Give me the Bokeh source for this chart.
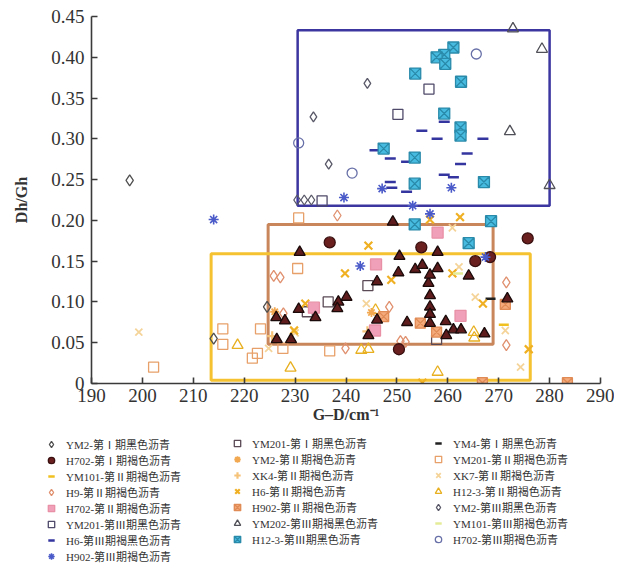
from bokeh.plotting import figure
from bokeh.models import (Legend, LegendItem, FixedTicker, NumeralTickFormatter, Range1d)
from bokeh.embed import file_html
from bokeh.resources import INLINE

# ---------------- data ----------------
x_ticks = [190, 200, 210, 220, 230, 240, 250, 260, 270, 280, 290]
y_ticks = [0, 0.05, 0.10, 0.15, 0.20, 0.25, 0.30, 0.35, 0.40, 0.45]

# group boxes (left, right, bottom, top)
box_left = [230.5, 224.7, 213.5]
box_right = [280.0, 268.9, 276.2]
box_bottom = [0.218, 0.048, 0.004]
box_top = [0.433, 0.195, 0.159]

ym2_1_x = [197.5, 214.0, 224.5]
ym2_1_y = [0.249, 0.055, 0.094]
ym201_1_x = [232.4, 236.5, 244.3, 257.8]
ym201_1_y = [0.088, 0.100, 0.120, 0.054]
ym4_1_x = [268.4]
ym4_1_y = [0.104]
tri_x = [230.9, 226.3, 228.0, 230.7, 226.4, 229.2, 234.0, 249.2, 250.5, 246.1,
         250.3, 253.6, 255.0, 256.2, 256.5, 258.0, 258.0, 264.1, 240.1, 238.5,
         238.3, 246.1, 244.4, 252.0, 256.5, 256.5, 256.5, 256.5, 259.6, 261.1,
         262.6, 259.7, 267.2, 271.7]
tri_y = [0.161, 0.081, 0.077, 0.091, 0.054, 0.054, 0.081, 0.198, 0.156, 0.125,
         0.136, 0.140, 0.145, 0.123, 0.133, 0.141, 0.161, 0.132, 0.106, 0.100,
         0.092, 0.078, 0.059, 0.075, 0.108, 0.094, 0.085, 0.074, 0.076, 0.066,
         0.066, 0.059, 0.061, 0.104]
h702_1_x = [236.8, 254.8, 275.7, 265.4, 268.3, 250.4]
h702_1_y = [0.173, 0.167, 0.178, 0.150, 0.155, 0.042]
ym2_2_x = [226.0, 245.0]
ym2_2_y = [0.088, 0.087]
ym201_2_x = [230.7, 230.5, 215.8, 215.8, 223.2, 221.6, 227.6, 236.8, 202.2, 222.6]
ym201_2_y = [0.203, 0.141, 0.067, 0.048, 0.067, 0.031, 0.043, 0.040, 0.020, 0.037]
ym101_2_x = [271.0]
ym101_2_y = [0.072]
xk4_2_x = [225.5, 244.2]
xk4_2_y = [0.058, 0.064]
xk7_2_x = [199.3, 244.0, 260.9, 262.2, 265.4, 271.3, 274.3, 224.8, 230.0]
xk7_2_y = [0.063, 0.098, 0.191, 0.143, 0.106, 0.065, 0.020, 0.043, 0.062]
h9_2_x = [238.3, 248.5, 239.9, 250.7, 251.7, 271.5, 271.5, 225.8, 227.1, 227.7]
h9_2_y = [0.206, 0.094, 0.043, 0.052, 0.051, 0.124, 0.047, 0.132, 0.130, 0.086]
h6_2_x = [232.0, 244.4, 239.8, 248.9, 256.5, 262.4, 260.9, 266.9, 275.9, 255.0, 229.8]
h6_2_y = [0.098, 0.169, 0.135, 0.127, 0.201, 0.204, 0.135, 0.098, 0.042, 0.001, 0.065]
h123_2_x = [218.7, 229.1, 245.8, 243.0, 244.4, 265.1, 265.2, 258.0]
h123_2_y = [0.047, 0.019, 0.090, 0.041, 0.042, 0.063, 0.056, 0.014]
h702_2_x = [233.7, 245.9, 258.0, 262.5, 245.7]
h702_2_y = [0.093, 0.146, 0.185, 0.083, 0.065]
h902_2_x = [247.4, 254.6, 257.8, 271.3, 266.8, 283.5]
h902_2_y = [0.082, 0.074, 0.063, 0.097, 0.001, 0.001]
ym2_3_x = [244.2, 233.6, 236.6, 230.4, 231.8, 233.2]
ym2_3_y = [0.368, 0.327, 0.269, 0.225, 0.225, 0.225]
ym201_3_x = [250.2, 256.3, 235.3]
ym201_3_y = [0.330, 0.361, 0.224]
ym202_3_x = [272.8, 278.5, 272.2, 280.0]
ym202_3_y = [0.435, 0.410, 0.309, 0.243]
ym101_3_x = [262.0]
ym101_3_y = [0.135]
h6_3_x = [245.7, 248.7, 251.9, 254.9, 257.9, 266.9, 263.8, 262.5, 259.3, 261.1,
          259.3, 248.7, 249.0, 251.9]
h6_3_y = [0.286, 0.276, 0.272, 0.310, 0.300, 0.300, 0.282, 0.269, 0.256, 0.253,
          0.321, 0.247, 0.240, 0.235]
h123_3_x = [261.1, 259.3, 257.8, 259.5, 253.6, 262.6, 259.3, 262.5, 262.5, 247.4,
            253.5, 253.5, 267.1, 253.5, 268.5, 264.1]
h123_3_y = [0.412, 0.403, 0.400, 0.392, 0.380, 0.370, 0.331, 0.314, 0.304, 0.288,
            0.277, 0.245, 0.247, 0.195, 0.199, 0.172]
h702_3_x = [230.7, 241.2, 265.6]
h702_3_y = [0.295, 0.258, 0.404]
h902_3_x = [214.0, 239.6, 253.1, 256.5, 242.8, 267.4, 247.1, 260.7]
h902_3_y = [0.201, 0.228, 0.218, 0.208, 0.144, 0.155, 0.239, 0.240]

# series styles: key -> (marker, size, line colour, fill colour, line width)
styles = {
    "ym2_1": ("diamond", 11, "#505050", None, 1.3),
    "ym201_1": ("square", 10, "#5a4a55", None, 1.3),
    "ym4_1": ("dash", 10, "#202020", None, 2.5),
    "ym201_2": ("square", 10, "#e8a06a", None, 1.3),
    "h9_2": ("diamond", 11, "#e0906e", None, 1.3),
    "h123_2": ("triangle", 11, "#e8b020", None, 1.3),
    "xk7_2": ("x", 10, "#f5d49a", None, 1.8),
    "xk4_2": ("cross", 10, "#f5c47a", None, 2.2),
    "ym2_2": ("asterisk", 9, "#f2a850", None, 1.8),
    "ym101_2": ("dash", 10, "#f0c020", None, 2.5),
    "h6_2": ("x", 11, "#f0b024", None, 2.2),
    "h702_2": ("square", 11, "#e890a6", "#f0a0b8", 1.3),
    "h902_2": ("square_x", 10, "#e08a55", "#f4aa7a", 1.3),
    "tri": ("triangle", 11, "#1a0a0a", "#5e1c1c", 1.3),
    "h702_1": ("circle", 11, "#3a1010", "#6b2020", 1.3),
    "ym2_3": ("diamond", 10, "#585868", None, 1.3),
    "ym201_3": ("square", 10, "#4f4a6a", None, 1.3),
    "ym202_3": ("triangle", 11, "#505058", None, 1.3),
    "ym101_3": ("dash", 10, "#e4ec98", None, 2.5),
    "h6_3": ("dash", 11, "#3535a0", None, 2.5),
    "h123_3": ("square_x", 11, "#2a8aaa", "#48bce0", 1.3),
    "h702_3": ("circle", 10, "#6870a8", None, 1.3),
    "h902_3": ("asterisk", 10, "#4a5ac8", None, 1.6),
}
series = {
    "ym2_1": (ym2_1_x, ym2_1_y), "ym201_1": (ym201_1_x, ym201_1_y), "ym4_1": (ym4_1_x, ym4_1_y),
    "ym201_2": (ym201_2_x, ym201_2_y), "h9_2": (h9_2_x, h9_2_y), "h123_2": (h123_2_x, h123_2_y),
    "xk7_2": (xk7_2_x, xk7_2_y), "xk4_2": (xk4_2_x, xk4_2_y), "ym2_2": (ym2_2_x, ym2_2_y),
    "ym101_2": (ym101_2_x, ym101_2_y), "h6_2": (h6_2_x, h6_2_y), "h702_2": (h702_2_x, h702_2_y),
    "h902_2": (h902_2_x, h902_2_y), "tri": (tri_x, tri_y), "h702_1": (h702_1_x, h702_1_y),
    "ym2_3": (ym2_3_x, ym2_3_y), "ym201_3": (ym201_3_x, ym201_3_y), "ym202_3": (ym202_3_x, ym202_3_y),
    "ym101_3": (ym101_3_x, ym101_3_y), "h6_3": (h6_3_x, h6_3_y), "h123_3": (h123_3_x, h123_3_y),
    "h702_3": (h702_3_x, h702_3_y), "h902_3": (h902_3_x, h902_3_y),
}

legend_cols = [
    [("YM2-第Ⅰ期黑色沥青", "ym2_1"), ("H702-第Ⅰ期褐色沥青", "h702_1"),
     ("YM101-第Ⅱ期褐色沥青", "ym101_2"), ("H9-第Ⅱ期褐色沥青", "h9_2"),
     ("H702-第Ⅱ期褐色沥青", "h702_2"), ("YM201-第Ⅲ期黑色沥青", "ym201_3"),
     ("H6-第Ⅲ期褐黑色沥青", "h6_3"), ("H902-第Ⅲ期褐色沥青", "h902_3")],
    [("YM201-第Ⅰ期黑色沥青", "ym201_1"), ("YM2-第Ⅱ期褐色沥青", "ym2_2"),
     ("XK4-第Ⅱ期褐色沥青", "xk4_2"), ("H6-第Ⅱ期褐色沥青", "h6_2"),
     ("H902-第Ⅱ期褐色沥青", "h902_2"), ("YM202-第Ⅲ期褐黑色沥青", "ym202_3"),
     ("H12-3-第Ⅲ期黑色沥青", "h123_3")],
    [("YM4-第Ⅰ期黑色沥青", "ym4_1"), ("YM201-第Ⅱ期褐色沥青", "ym201_2"),
     ("XK7-第Ⅱ期褐色沥青", "xk7_2"), ("H12-3-第Ⅱ期褐色沥青", "h123_2"),
     ("YM2-第Ⅲ期黑色沥青", "ym2_3"), ("YM101-第Ⅲ期褐色沥青", "ym101_3"),
     ("H702-第Ⅲ期褐色沥青", "h702_3")],
]

# ---------------- main figure ----------------
p = figure(width=614, height=430, x_range=Range1d(190, 290), y_range=Range1d(0, 0.45),
           output_backend="svg", toolbar_location=None,
           min_border_left=91, min_border_right=14, min_border_top=16, min_border_bottom=47)
p.xgrid.visible = False
p.ygrid.visible = False
p.outline_line_color = None

FONT = "Liberation Serif"
for ax in (p.xaxis[0], p.yaxis[0]):
    ax.major_tick_in = 6
    ax.major_tick_out = 0
    ax.minor_tick_line_color = None
    ax.axis_line_color = "#3a3a3a"
    ax.axis_line_width = 1.6
    ax.major_tick_line_color = "#3a3a3a"
    ax.major_tick_line_width = 1.6
    ax.major_label_text_font = FONT
    ax.major_label_text_font_size = "19px"
    ax.major_label_text_color = "#333333"
    ax.axis_label_text_font = FONT
    ax.axis_label_text_font_size = "16px"
    ax.axis_label_text_font_style = "bold"
    ax.axis_label_text_color = "#333333"

p.xaxis.ticker = FixedTicker(ticks=x_ticks)
p.yaxis.ticker = FixedTicker(ticks=y_ticks)
p.yaxis.formatter = NumeralTickFormatter(format="0.00")
p.yaxis.major_label_overrides = {0: "0"}
p.xaxis.axis_label = "G–D/cm⁻¹"
p.yaxis.axis_label = "Dh/Gh"
p.xaxis.major_label_standoff = 5
p.yaxis.major_label_standoff = 7
p.xaxis.axis_label_standoff = 1
p.yaxis.axis_label_standoff = 18

p.quad(left=[box_left[0]], right=[box_right[0]], bottom=[box_bottom[0]], top=[box_top[0]],
       fill_color=None, line_color="#3c36a0", line_width=2.5)
p.quad(left=[box_left[1]], right=[box_right[1]], bottom=[box_bottom[1]], top=[box_top[1]],
       fill_color=None, line_color="#c8865a", line_width=3)
p.quad(left=[box_left[2]], right=[box_right[2]], bottom=[box_bottom[2]], top=[box_top[2]],
       fill_color=None, line_color="#f5c232", line_width=3)

for key, (xs, ys) in series.items():
    m, s, lc, fc, lw = styles[key]
    p.scatter(x=xs, y=ys, marker=m, size=s, line_color=lc, fill_color=fc, line_width=lw)

# ---------------- legend strip (separate root, same series, view kept off-data) ----------------
lf = figure(width=614, height=137, x_range=Range1d(0, 1), y_range=Range1d(0, 1),
            output_backend="svg", toolbar_location=None, min_border=0,
            min_border_left=0, min_border_right=0, min_border_top=0, min_border_bottom=0,
            x_axis_location=None, y_axis_location=None)
lf.xgrid.visible = False
lf.ygrid.visible = False
lf.outline_line_color = None

proxies = {}
for key, (m, s, lc, fc, lw) in styles.items():
    xs, ys = series[key]
    proxies[key] = lf.scatter(x=xs, y=ys, marker=m, size=s, line_color=lc,
                              fill_color=fc, line_width=lw)

for items, loc in zip(legend_cols, [(42, 3), (228, 20), (429, 20)]):
    lg = Legend(items=[LegendItem(label=t, renderers=[proxies[k]]) for t, k in items],
                location=loc, orientation="vertical", padding=0, margin=0, spacing=0,
                glyph_width=18, glyph_height=16, label_height=16, label_standoff=6,
                label_text_font="Liberation Serif, Noto Sans CJK SC",
                label_text_font_size="11px",
                label_text_color="#333333", border_line_color=None,
                background_fill_alpha=0)
    lf.add_layout(lg, "center")

open("out.html", "w").write(file_html([p, lf], INLINE))
